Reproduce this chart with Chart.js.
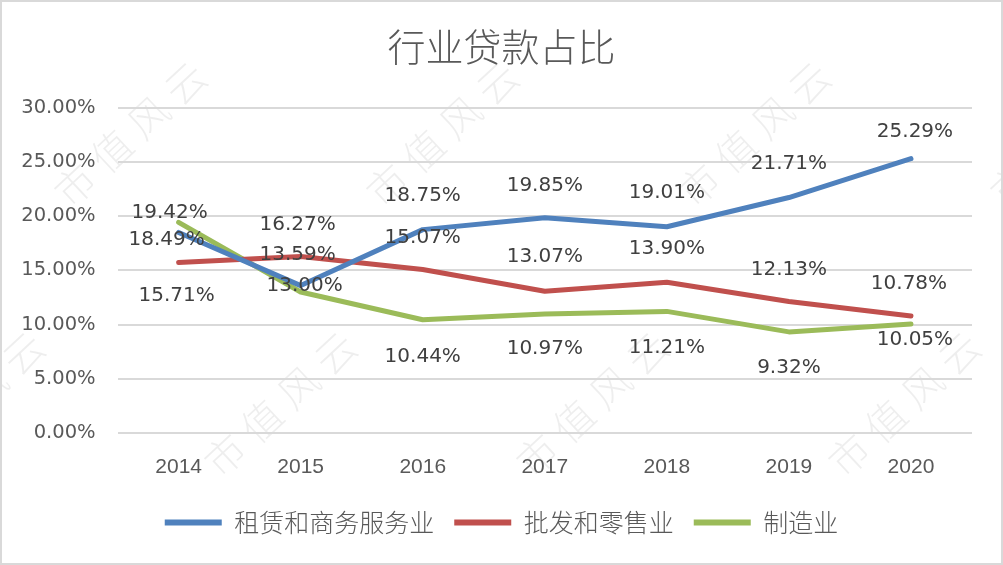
<!DOCTYPE html>
<html>
<head>
<meta charset="utf-8">
<script src="https://cdn.jsdelivr.net/npm/chart.js@4.4.0/dist/chart.umd.min.js"></script>
<style>
  html, body { margin: 0; padding: 0; background: #fff; }
  #wrap { width: 1003px; height: 565px; }
</style>
</head>
<body>
<div id="wrap"><canvas id="c" width="1003" height="565"></canvas></div>
<script>
// data (percent)
const years = ['2014', '2015', '2016', '2017', '2018', '2019', '2020'];
const leasing = [18.49, 13.59, 18.75, 19.85, 19.01, 21.71, 25.29];
const wholesale = [15.71, 16.27, 15.07, 13.07, 13.90, 12.13, 10.78];
const manufacturing = [19.42, 13.00, 10.44, 10.97, 11.21, 9.32, 10.05];
const seriesNames = ['租赁和商务服务业', '批发和零售业', '制造业'];
const yMin = 0, yMax = 30, yStep = 5;

const colors = ['#4F81BD', '#C0504D', '#9BBB59'];

// where each value label sits relative to its point, [dx, dy] in px
const labelOffsets = [
  [[-12, 7], [-3, -31], [0, -34], [0, -32], [0, -34], [0, -34], [4, -27]],
  [[-2, 33], [-3, -32], [0, -32], [0, -34], [0, -33], [0, -32], [-2, -32]],
  [[-9, -10], [4, -6], [0, 37], [0, 35], [0, 36], [0, 36], [4, 16]]
];

const backdrop = {
  id: 'backdrop',
  beforeDraw(chart) {
    const ctx = chart.ctx;
    ctx.save();
    ctx.fillStyle = '#fff';
    ctx.fillRect(0, 0, chart.width, chart.height);
    // faint watermark
    ctx.fillStyle = 'rgba(0,0,0,0.065)';
    ctx.font = '300 40px "Noto Sans CJK SC"';
    ctx.textAlign = 'center';
    ctx.textBaseline = 'middle';
    const word = '市值风云';
    for (let row = 0; row < 3; row++) {
      for (let col = -1; col < 4; col++) {
        const x0 = 75 + col * 312 + (row % 2) * 150;
        const y0 = 185 + row * 270;
        ctx.save();
        ctx.translate(x0, y0);
        ctx.rotate(-Math.PI / 4.2);
        for (let i = 0; i < word.length; i++) {
          ctx.fillText(word[i], i * 50, 0);
        }
        ctx.restore();
      }
    }
    ctx.strokeStyle = '#d9d9d9';
    ctx.lineWidth = 2;
    ctx.strokeRect(1, 1, chart.width - 2, chart.height - 2);
    ctx.restore();
  }
};

const valueLabels = {
  id: 'valueLabels',
  afterDatasetsDraw(chart) {
    const ctx = chart.ctx;
    ctx.save();
    ctx.font = '20px "DejaVu Sans"';
    ctx.fillStyle = '#404040';
    ctx.textAlign = 'center';
    ctx.textBaseline = 'middle';
    chart.data.datasets.forEach((ds, di) => {
      chart.getDatasetMeta(di).data.forEach((pt, i) => {
        const off = labelOffsets[di][i];
        ctx.fillText(ds.data[i].toFixed(2) + '%', pt.x + off[0], pt.y + off[1]);
      });
    });
    ctx.restore();
  }
};

const makeSet = (label, data, color) => ({
  label,
  data,
  borderColor: color,
  backgroundColor: color,
  borderWidth: 5,
  borderCapStyle: 'round',
  borderJoinStyle: 'round',
  pointRadius: 0,
  pointHoverRadius: 0,
  tension: 0,
  fill: false
});

new Chart(document.getElementById('c'), {
  type: 'line',
  data: {
    labels: years,
    datasets: [
      makeSet(seriesNames[0], leasing, colors[0]),
      makeSet(seriesNames[1], wholesale, colors[1]),
      makeSet(seriesNames[2], manufacturing, colors[2])
    ]
  },
  options: {
    responsive: false,
    animation: false,
    layout: { padding: { left: 17, right: 17, top: 0, bottom: 20 } },
    plugins: {
      tooltip: { enabled: false },
      title: {
        display: true,
        text: '行业贷款占比',
        color: '#595959',
        font: { family: '"Noto Sans CJK SC"', size: 38, weight: 300 },
        padding: { top: 24, bottom: 38 }
      },
      legend: {
        position: 'bottom',
        labels: {
          color: '#595959',
          font: { family: '"Noto Sans CJK SC"', size: 25, weight: 300 },
          boxWidth: 57,
          boxHeight: 6,
          padding: 20,
          useBorderRadius: true,
          borderRadius: 3,
          generateLabels(chart) {
            return chart.data.datasets.map((ds, i) => ({
              text: ds.label,
              fillStyle: ds.borderColor,
              strokeStyle: ds.borderColor,
              lineWidth: 0,
              fontColor: '#595959',
              datasetIndex: i
            }));
          }
        }
      }
    },
    scales: {
      x: {
        offset: true,
        grid: { display: false },
        border: { display: false },
        ticks: {
          color: '#595959',
          font: { family: '"Liberation Sans"', size: 21 },
          padding: 14
        },
        afterFit(scale) { scale.height = 57; }
      },
      y: {
        min: yMin,
        max: yMax,
        border: { display: false },
        grid: { color: '#d9d9d9', lineWidth: 2, drawTicks: false },
        ticks: {
          stepSize: yStep,
          color: '#595959',
          font: { family: '"DejaVu Sans"', size: 19.5 },
          padding: 22,
          callback: v => v.toFixed(2) + '%'
        },
        afterFit(scale) { scale.width = 100.6; }
      },
      // empty right-hand strip so the plot ends where the original does
      yRight: {
        position: 'right',
        grid: { display: false },
        border: { display: false },
        ticks: { display: false },
        afterFit(scale) { scale.width = 14; }
      }
    }
  },
  plugins: [backdrop, valueLabels]
});
</script>
</body>
</html>
